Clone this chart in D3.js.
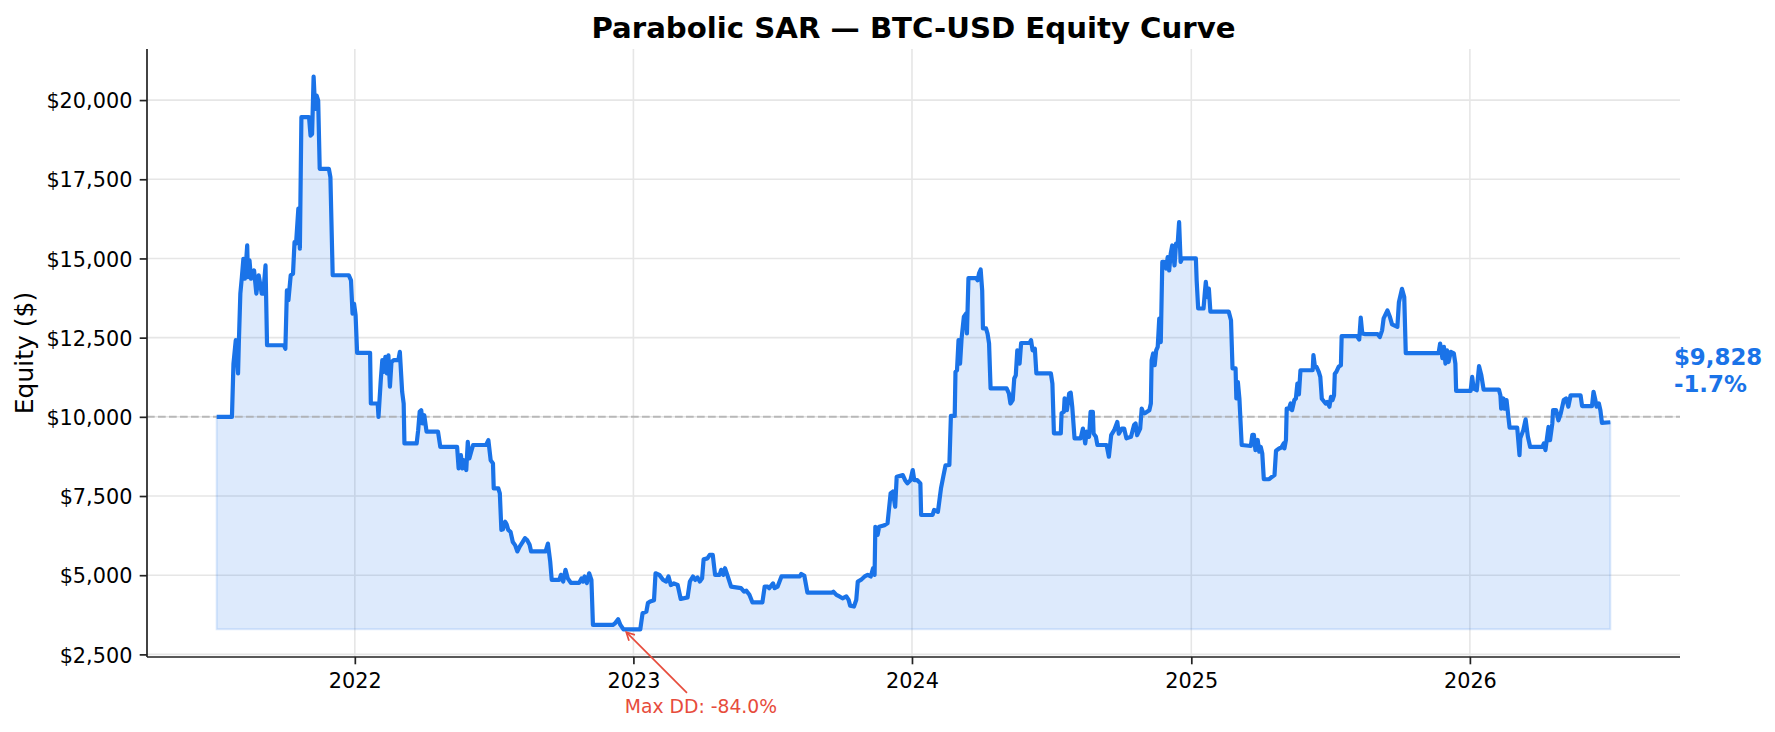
<!DOCTYPE html>
<html><head><meta charset="utf-8">
<script src="https://cdn.jsdelivr.net/npm/d3@7"></script>
<style>body{margin:0;background:#fff} svg{display:block} text{font-family:"DejaVu Sans",sans-serif}</style>
</head><body>
<svg id="chart" width="1775" height="732"></svg>
<script>
const dates = [
"2021-07-04","2021-07-24","2021-07-26","2021-07-29","2021-08-01","2021-08-02","2021-08-04","2021-08-06","2021-08-08","2021-08-10",
"2021-08-13","2021-08-14","2021-08-16","2021-08-18","2021-08-22","2021-08-25","2021-08-28","2021-08-30","2021-09-01","2021-09-03",
"2021-09-06","2021-09-08","2021-09-30","2021-10-02","2021-10-04","2021-10-06","2021-10-09","2021-10-12","2021-10-14","2021-10-16",
"2021-10-19","2021-10-21","2021-10-23","2021-11-02","2021-11-04","2021-11-06","2021-11-08","2021-11-10","2021-11-12","2021-11-14",
"2021-11-16","2021-11-28","2021-11-30","2021-12-03","2021-12-24","2021-12-27","2021-12-29","2021-12-31","2022-01-02","2022-01-04",
"2022-01-21","2022-01-22","2022-01-31","2022-02-01","2022-02-04","2022-02-06","2022-02-08","2022-02-10","2022-02-12","2022-02-14",
"2022-02-16","2022-02-18","2022-02-21","2022-02-27","2022-03-01","2022-03-04","2022-03-06","2022-03-07","2022-03-23","2022-03-25",
"2022-03-27","2022-03-29","2022-03-31","2022-04-02","2022-04-05","2022-04-20","2022-04-23","2022-05-15","2022-05-17","2022-05-20",
"2022-05-22","2022-05-24","2022-05-27","2022-05-29","2022-05-31","2022-06-03","2022-06-05","2022-06-22","2022-06-25","2022-06-28",
"2022-07-01","2022-07-02","2022-07-08","2022-07-10","2022-07-12","2022-07-14","2022-07-17","2022-07-19","2022-07-21","2022-07-24",
"2022-07-27","2022-07-30","2022-08-02","2022-08-05","2022-08-09","2022-08-12","2022-08-15","2022-08-18","2022-08-20","2022-09-08",
"2022-09-11","2022-09-14","2022-09-16","2022-09-26","2022-09-28","2022-10-01","2022-10-04","2022-10-07","2022-10-11","2022-10-22",
"2022-10-25","2022-10-27","2022-10-29","2022-11-01","2022-11-04","2022-11-07","2022-11-09","2022-12-05","2022-12-08","2022-12-12",
"2022-12-15","2022-12-19","2023-01-10","2023-01-13","2023-01-18","2023-01-20","2023-01-23","2023-01-28","2023-01-30","2023-02-04",
"2023-02-09","2023-02-13","2023-02-16","2023-02-19","2023-02-23","2023-02-28","2023-03-04","2023-03-13","2023-03-16","2023-03-20",
"2023-03-23","2023-03-26","2023-03-29","2023-04-01","2023-04-03","2023-04-08","2023-04-11","2023-04-15","2023-04-18","2023-04-24",
"2023-04-26","2023-04-29","2023-05-01","2023-05-04","2023-05-09","2023-05-22","2023-05-26","2023-05-29","2023-06-02","2023-06-06",
"2023-06-19","2023-06-22","2023-06-26","2023-06-28","2023-07-03","2023-07-05","2023-07-09","2023-07-14","2023-08-07","2023-08-09",
"2023-08-13","2023-08-17","2023-09-18","2023-09-20","2023-09-24","2023-09-28","2023-10-02","2023-10-07","2023-10-10","2023-10-12",
"2023-10-17","2023-10-20","2023-10-22","2023-10-26","2023-10-31","2023-11-04","2023-11-08","2023-11-11","2023-11-13","2023-11-14",
"2023-11-17","2023-11-19","2023-11-26","2023-11-30","2023-12-04","2023-12-07","2023-12-10","2023-12-12","2023-12-20","2023-12-23",
"2023-12-26","2023-12-30","2024-01-02","2024-01-04","2024-01-08","2024-01-12","2024-01-13","2024-01-28","2024-01-30","2024-02-04",
"2024-02-06","2024-02-08","2024-02-11","2024-02-14","2024-02-19","2024-02-21","2024-02-26","2024-02-27","2024-02-29","2024-03-02",
"2024-03-04","2024-03-06","2024-03-09","2024-03-12","2024-03-13","2024-03-15","2024-03-25","2024-03-27","2024-03-29","2024-03-31",
"2024-04-02","2024-04-03","2024-04-07","2024-04-09","2024-04-11","2024-04-13","2024-05-04","2024-05-07","2024-05-09","2024-05-12",
"2024-05-14","2024-05-16","2024-05-18","2024-05-21","2024-05-23","2024-06-03","2024-06-05","2024-06-07","2024-06-10","2024-06-12",
"2024-07-01","2024-07-03","2024-07-05","2024-07-14","2024-07-15","2024-07-18","2024-07-19","2024-07-22","2024-07-25","2024-07-27",
"2024-07-29","2024-08-01","2024-08-09","2024-08-12","2024-08-15","2024-08-17","2024-08-20","2024-08-22","2024-08-25","2024-08-26",
"2024-08-29","2024-08-31","2024-09-12","2024-09-15","2024-09-18","2024-09-22","2024-09-26","2024-09-28","2024-10-02","2024-10-05",
"2024-10-08","2024-10-14","2024-10-18","2024-10-20","2024-10-22","2024-10-26","2024-10-28","2024-10-30","2024-11-01","2024-11-07",
"2024-11-09","2024-11-10","2024-11-12","2024-11-14","2024-11-16","2024-11-18","2024-11-20","2024-11-22","2024-11-24","2024-11-26",
"2024-11-29","2024-12-01","2024-12-03","2024-12-05","2024-12-07","2024-12-10","2024-12-12","2024-12-14","2024-12-16","2024-12-18",
"2024-12-20","2025-01-07","2025-01-08","2025-01-10","2025-01-17","2025-01-19","2025-01-20","2025-01-22","2025-01-24","2025-01-26",
"2025-02-19","2025-02-22","2025-02-24","2025-02-28","2025-03-01","2025-03-03","2025-03-05","2025-03-08","2025-03-20","2025-03-22",
"2025-03-24","2025-03-26","2025-03-29","2025-03-31","2025-04-02","2025-04-04","2025-04-06","2025-04-13","2025-04-17","2025-04-20",
"2025-04-22","2025-04-26","2025-04-29","2025-05-02","2025-05-03","2025-05-05","2025-05-06","2025-05-09","2025-05-11","2025-05-13",
"2025-05-16","2025-05-18","2025-05-20","2025-05-22","2025-05-24","2025-06-09","2025-06-10","2025-06-12","2025-06-14","2025-06-17",
"2025-06-19","2025-06-21","2025-06-26","2025-06-28","2025-07-01","2025-07-03","2025-07-05","2025-07-07","2025-07-08","2025-07-10",
"2025-07-13","2025-07-16","2025-07-17","2025-08-06","2025-08-09","2025-08-11","2025-08-13","2025-08-17","2025-09-02","2025-09-05",
"2025-09-08","2025-09-10","2025-09-15","2025-09-18","2025-09-21","2025-09-28","2025-09-30","2025-10-04","2025-10-07","2025-10-09",
"2025-11-21","2025-11-23","2025-11-26","2025-11-28","2025-11-30","2025-12-02","2025-12-04","2025-12-07","2025-12-11","2025-12-13",
"2025-12-14","2026-01-02","2026-01-04","2026-01-06","2026-01-10","2026-01-13","2026-01-16","2026-01-19","2026-02-08","2026-02-10",
"2026-02-11","2026-02-14","2026-02-15","2026-02-18","2026-02-22","2026-03-04","2026-03-07","2026-03-08","2026-03-12","2026-03-15",
"2026-03-18","2026-03-21","2026-04-06","2026-04-08","2026-04-10","2026-04-12","2026-04-14","2026-04-16","2026-04-19","2026-04-20",
"2026-04-24","2026-04-27","2026-04-30","2026-05-04","2026-05-07","2026-05-10","2026-05-13","2026-05-26","2026-05-28","2026-06-10",
"2026-06-12","2026-06-14","2026-06-16","2026-06-19","2026-06-21","2026-06-23","2026-07-04"
];
const equity = [
10000,10000,11680,12420,11370,12310,13890,14410,14990,14360,
15410,14410,14940,14360,14620,13890,14470,14200,13890,13890,
14780,12260,12260,12150,13990,13680,14470,14520,15520,15470,
16570,15310,19460,19460,18880,18930,20740,19720,20140,19980,
17830,17830,17570,14470,14470,14310,13260,13570,13210,12020,
12020,10420,10420,10000,11160,11790,11420,11890,11370,11940,
10950,11730,11790,11790,12050,10790,10420,9160,9160,9580,
10160,10210,9790,10050,9530,9530,9050,9050,8370,8790,
8370,8630,8320,9210,8690,8950,9110,9110,9260,8630,
8530,7740,7740,7580,6430,6450,6690,6600,6430,6370,
6050,5950,5750,5900,6050,6170,6100,5960,5750,5750,
6000,5430,4850,4850,5010,4800,5170,4900,4760,4760,
4900,4800,4960,4750,5060,4850,3430,3430,3480,3610,
3430,3290,3290,3800,3850,4120,4170,4210,5060,5010,
4850,4800,4960,4690,4740,4690,4250,4300,4800,4960,
4850,4930,4800,4900,5500,5530,5640,5640,5010,5010,
5170,5010,5220,5010,4640,4590,4480,4510,4380,4140,
4140,4640,4640,4590,4740,4590,4640,4960,4960,5040,
4980,4450,4450,4480,4380,4330,4270,4330,4220,4040,
4010,4220,4800,4850,4960,5010,4960,5220,5010,6530,
6270,6530,6580,6640,7580,7640,7160,8110,8160,8000,
7900,8000,8320,8000,8000,7900,6900,6900,7060,7000,
7370,7740,8110,8470,8480,10030,10030,11420,11470,12420,
11680,12470,13160,13260,12630,14380,14380,14310,14540,14650,
13990,12790,12790,12630,12320,10900,10900,10740,10420,10530,
11210,11310,12100,11680,12330,12330,12420,12100,12150,11370,
11370,11050,9480,9480,10110,10160,10580,10210,10740,10760,
10320,9320,9320,9630,9160,9530,9370,10160,10160,9470,
9370,9110,9110,8740,9420,9580,9840,9470,9630,9630,
9320,9370,9740,9790,9420,9630,10260,10130,10110,10210,
10420,11790,12000,11630,12100,12210,13100,12360,14890,14890,
14680,15040,14620,15150,15410,14780,15470,15410,16150,14890,
15000,15000,14310,13420,13420,14000,14260,13780,14050,13320,
13320,13050,11530,11530,10580,11100,10580,9110,9080,9430,
9430,8950,9270,8900,9050,8840,8030,8030,8110,8160,
8930,9000,9030,9160,9000,9270,10260,10260,10420,10210,
10530,10580,11050,10710,11470,11470,11950,11580,11580,11420,
11260,10570,10420,10470,10320,10630,10530,10680,11360,11420,
11580,11630,12550,12550,12440,13130,12630,12610,12610,12520,
12730,13110,13360,13170,12920,12840,13620,14040,13780,12010,
12010,12310,11850,12210,11680,12100,11730,12050,12000,11680,
10820,10820,11260,10890,10840,11600,11310,10860,10860,10680,
10260,10580,10260,10530,9660,9660,8790,9320,9580,9920,
9370,9050,9050,9160,8950,9320,9680,9260,9790,10210,
10210,9890,10100,10530,10580,10320,10680,10680,10340,10340,
10790,10580,10320,10420,10210,9810,9828
];
const yTicks = [2500,5000,7500,10000,12500,15000,17500,20000];
const xTickYears = [2022,2023,2024,2025,2026];
const titleText = "Parabolic SAR \u2014 BTC-USD Equity Curve";
const yLabelText = "Equity ($)";
const startCapital = 10000;
const maxDDLabel = "Max DD: -84.0%";

const W = 1775, H = 732;
const M = {left:147, right:1680, top:49, bottom:657};
const blue = "#1a73e8", red = "#e74c3c";

const svg = d3.select("#chart");
svg.append("rect").attr("width",W).attr("height",H).attr("fill","#fff");

const parse = d3.timeParse("%Y-%m-%d");
const data = dates.map((d,i)=>({date:parse(d), v:equity[i]}));
const t0 = data[0].date, t1 = data[data.length-1].date;
const span = t1 - t0;
const x = d3.scaleTime()
  .domain([new Date(+t0 - span*0.05), new Date(+t1 + span*0.05)])
  .range([M.left, M.right]);
const vMin = d3.min(equity), vMax = d3.max(equity);
const pad = (vMax - vMin)*0.05;
const y = d3.scaleLinear().domain([vMin - pad, vMax + pad]).range([M.bottom, M.top]);

// grid
const grid = svg.append("g");
grid.selectAll("line.gy").data(yTicks).join("line")
  .attr("x1",M.left).attr("x2",M.right)
  .attr("y1",d=>y(d)).attr("y2",d=>y(d))
  .attr("stroke","#e6e6e6").attr("stroke-width",1.6);
const yearDates = xTickYears.map(yr=>new Date(yr,0,1));
grid.selectAll("line.gx").data(yearDates).join("line")
  .attr("x1",d=>x(d)).attr("x2",d=>x(d))
  .attr("y1",M.top).attr("y2",M.bottom)
  .attr("stroke","#e6e6e6").attr("stroke-width",1.6);

// fill
const area = d3.area().x(d=>x(d.date)).y0(y(vMin)).y1(d=>y(d.v));
svg.append("path").datum(data).attr("d",area)
  .attr("fill",blue).attr("fill-opacity",0.15)
  .attr("stroke",blue).attr("stroke-opacity",0.15).attr("stroke-width",2);

// start capital reference line
svg.append("line")
  .attr("x1",M.left).attr("x2",M.right)
  .attr("y1",y(startCapital)).attr("y2",y(startCapital))
  .attr("stroke","#a8a8a8").attr("stroke-opacity",0.75)
  .attr("stroke-width",2).attr("stroke-dasharray","7.7,3.3");

// equity line
const line = d3.line().x(d=>x(d.date)).y(d=>y(d.v));
svg.append("path").datum(data).attr("d",line)
  .attr("fill","none").attr("stroke",blue).attr("stroke-width",4.2)
  .attr("stroke-linejoin","round").attr("stroke-linecap","butt");

// axes
const fmt = d3.format(",");
const yAxis = d3.axisLeft(y).tickValues(yTicks).tickFormat(d=>"$"+fmt(d))
  .tickSize(7.3).tickPadding(7.3).tickSizeOuter(0);
const gy = svg.append("g").attr("transform",`translate(${M.left},0)`).call(yAxis);
const xAxis = d3.axisBottom(x).tickValues(yearDates).tickFormat(d3.timeFormat("%Y"))
  .tickSize(7.3).tickPadding(7.3).tickSizeOuter(0);
const gx = svg.append("g").attr("transform",`translate(0,${M.bottom})`).call(xAxis);
[gx,gy].forEach(g=>{
  g.select(".domain").attr("stroke","#222").attr("stroke-width",1.7);
  g.selectAll(".tick line").attr("stroke","#222").attr("stroke-width",1.7);
  g.selectAll(".tick text").attr("fill","#000")
    .style("font-family",'"DejaVu Sans",sans-serif').style("font-size","20.8px");
});
gy.selectAll(".tick text").attr("dy","0.37em");
gx.selectAll(".tick text").attr("y",14.6).attr("dy","0.81em");
gy.select(".domain").attr("d",`M0,${M.bottom}V${M.top}`);
gx.select(".domain").attr("d",`M${M.left},0H${M.right}`);

// title
svg.append("text").attr("x",(M.left+M.right)/2).attr("y",37.5)
  .attr("text-anchor","middle").attr("font-weight","bold").attr("font-size",29.2)
  .attr("fill","#000").text(titleText);

// y label
svg.append("text")
  .attr("transform",`translate(33,${(M.top+M.bottom)/2}) rotate(-90)`)
  .attr("text-anchor","middle").attr("font-size",25).attr("fill","#000")
  .text(yLabelText);

// max drawdown annotation
const minIdx = d3.minIndex(equity);
const tx = x(data[minIdx].date), ty = y(data[minIdx].v);
const lx = tx + 77.5, ly = ty + 84;
svg.append("text").attr("x",lx).attr("y",ly).attr("text-anchor","middle")
  .attr("font-size",18.75).attr("fill",red).text(maxDDLabel);
const sx = lx - 14, sy = ly - 20.5;
const dx = tx - sx, dyv = ty - sy, len = Math.hypot(dx,dyv);
const ux = dx/len, uy = dyv/len;
const tipX = tx - ux*4, tipY = ty - uy*4;
svg.append("line").attr("x1",sx).attr("y1",sy).attr("x2",tipX).attr("y2",tipY)
  .attr("stroke",red).attr("stroke-width",1.7);
const hl = 8, hw = 4.2;
const bx = tipX - ux*hl, by = tipY - uy*hl;
svg.append("path")
  .attr("d",`M${bx - uy*hw},${by + ux*hw}L${tipX},${tipY}L${bx + uy*hw},${by - ux*hw}`)
  .attr("fill","none").attr("stroke",red).attr("stroke-width",1.7);

// final value annotation
const last = data[data.length-1];
const ret = (last.v/startCapital - 1)*100;
const fx = x(last.date) + 63.6, fy = y(last.v);
const lab = svg.append("text").attr("font-weight","bold").attr("font-size",22.9).attr("fill",blue);
lab.append("tspan").attr("x",fx).attr("y",fy-57.3).text("$"+fmt(last.v));
lab.append("tspan").attr("x",fx).attr("y",fy-30.6).text((ret>=0?"+":"")+ret.toFixed(1)+"%");
</script>
</body></html>
